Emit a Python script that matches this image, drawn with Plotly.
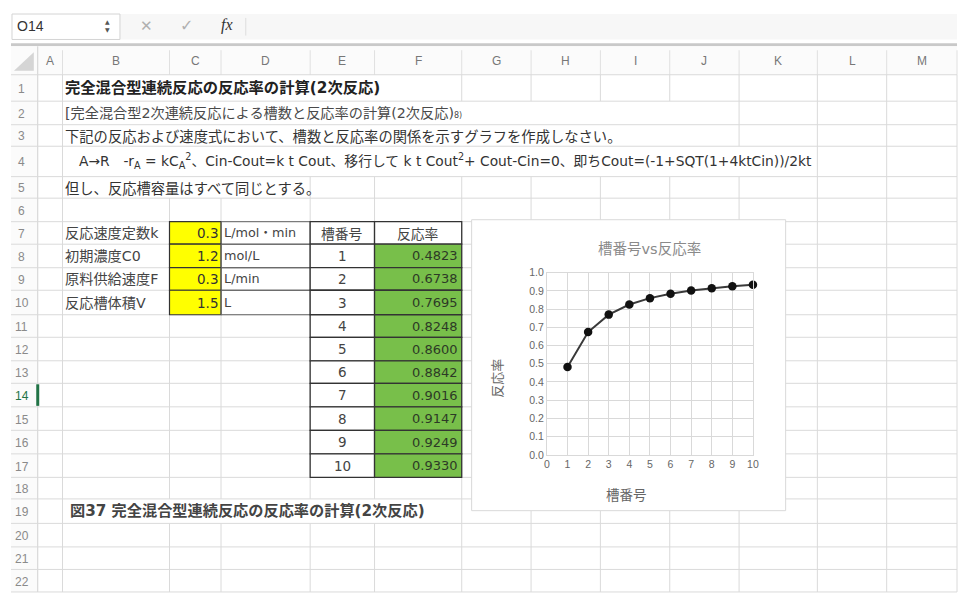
import plotly.graph_objects as go

# Figure is sized to fit inside the 973x605 window together with the page's 8px body margin,
# all positions below are given in window (screenshot) pixels.
WIN_W, WIN_H = 973, 605
OFF = 8
W, H = WIN_W - 2 * OFF, WIN_H - 2 * OFF

# ---------------- data ----------------
tank_no = [1, 2, 3, 4, 5, 6, 7, 8, 9, 10]
conversion = [0.4823, 0.6738, 0.7695, 0.8248, 0.8600, 0.8842, 0.9016, 0.9147, 0.9249, 0.9330]

param_labels = ["反応速度定数k", "初期濃度C0", "原料供給速度F", "反応槽体積V"]
param_values = ["0.3", "1.2", "0.3", "1.5"]
param_units = ["L/mol・min", "mol/L", "L/min", "L"]

table_headers = ["槽番号", "反応率"]
col_letters = ["A", "B", "C", "D", "E", "F", "G", "H", "I", "J", "K", "L", "M"]
row_numbers = list(range(1, 23))

title_row1 = "完全混合型連続反応の反応率の計算(2次反応)"
text_row2 = "[完全混合型2次連続反応による槽数と反応率の計算(2次反応)<span style='font-size:8px'>8)</span>"
text_row3 = "下記の反応および速度式において、槽数と反応率の関係を示すグラフを作成しなさい。"
text_row4 = ("A→R　-r<sub>A</sub> = kC<sub>A</sub><sup>2</sup>、Cin-Cout=k t Cout、移行して k t Cout<sup>2</sup>"
             "+ Cout-Cin=0、即ちCout=(-1+SQT(1+4ktCin))/2kt")
text_row5 = "但し、反応槽容量はすべて同じとする。"
caption_row19 = "図37 完全混合型連続反応の反応率の計算(2次反応)"
chart_title = "槽番号vs反応率"
x_title = "槽番号"
y_title = "反応率"

# ---------------- geometry (window pixels) ----------------
col_edges = [35, 60, 168, 220, 310, 375, 463, 533, 603, 673, 743, 822, 892, 963]
row_edges = [70, 97, 121, 143, 174, 196, 220, 243, 267, 290, 315, 338, 362, 385,
             409, 433, 457, 481, 503, 528, 552, 575, 598]
header_top = 41
overflow = {1: (60, 400), 2: (60, 700), 3: (60, 700), 4: (60, 810), 5: (60, 260), 19: (60, 430)}

CJK = "Noto Sans CJK JP"
MIX = "DejaVu Sans, Noto Sans CJK JP"


def px(x):
    return (x - OFF) / W


def py(y):
    return 1 - (y - OFF) / H


shapes = []
annotations = []


def line(x0, y0, x1, y1, color="#dadada", width=1, layer="below"):
    shapes.append(dict(type="line", xref="paper", yref="paper", x0=px(x0), y0=py(y0),
                       x1=px(x1), y1=py(y1), line=dict(color=color, width=width), layer=layer))


def rect(x0, y0, x1, y1, fill, lc=None, lw=0, layer="below"):
    shapes.append(dict(type="rect", xref="paper", yref="paper", x0=px(x0), y0=py(y0),
                       x1=px(x1), y1=py(y1), fillcolor=fill,
                       line=dict(color=lc if lc else fill, width=lw), layer=layer))


def text(x, y, s, size=13, color="#3a3a3a", anchor="left", family=CJK, angle=0):
    annotations.append(dict(x=px(x), y=py(y), xref="paper", yref="paper", text=s,
                            showarrow=False, xanchor=anchor, yanchor="middle", textangle=angle,
                            font=dict(size=size, color=color, family=family), borderpad=0))


def row_mid(r):
    return (row_edges[r - 1] + row_edges[r]) / 2


# ---------------- formula bar ----------------
rect(118, 8, 963, 34, "#f7f7f7")
rect(9, 8, 118, 34, "#ffffff", "#d4d4d4", 1)
text(13, 20, "O14", size=14, color="#333333", family="Liberation Sans")
text(105, 16, "▲", size=6, color="#555555", anchor="center", family="DejaVu Sans")
text(105, 24, "▼", size=6, color="#555555", anchor="center", family="DejaVu Sans")
text(145, 20, "✕", size=15, color="#b0b0b0", anchor="center", family="DejaVu Sans")
text(185, 20, "✓", size=16, color="#b0b0b0", anchor="center", family="DejaVu Sans")
text(226, 19, "<i>fx</i>", size=16, color="#333333", anchor="center", family="Liberation Serif")
line(245, 12, 245, 30, "#dddddd", 1)
line(8, 39.5, 963, 39.5, "#c9c9c9", 3)

# ---------------- headers ----------------
rect(8, header_top, 963, row_edges[0], "#fbfbfb")
rect(8, row_edges[0], col_edges[0], row_edges[-1], "#fbfbfb")
shapes.append(dict(type="path", xref="paper", yref="paper",
                   path="M %f %f L %f %f L %f %f Z" % (px(31), py(47), px(31), py(66), px(11), py(66)),
                   fillcolor="#d5d5d5", line=dict(width=0), layer="below"))
for i, c in enumerate(col_letters):
    text((col_edges[i] + col_edges[i + 1]) / 2, 56, c, size=12, color="#777777",
         anchor="center", family="Liberation Sans")
for r in row_numbers:
    col = "#217346" if r == 14 else "#8a8a8a"
    text(19, row_mid(r) + 1, str(r), size=12, color=col, anchor="center", family="Liberation Sans")

# ---------------- grid ----------------
for x in col_edges[1:]:
    run_start = None
    for r in row_numbers:
        hidden = r in overflow and overflow[r][0] < x < overflow[r][1]
        if not hidden and run_start is None:
            run_start = row_edges[r - 1]
        if hidden and run_start is not None:
            line(x, run_start, x, row_edges[r - 1])
            run_start = None
    if run_start is not None:
        line(x, run_start, x, row_edges[-1])
    line(x, header_top + 4, x, row_edges[0], "#e0e0e0")
line(col_edges[0], header_top, col_edges[0], row_edges[-1], "#d0d0d0")
for y in row_edges:
    line(8, y, 963, y)
line(col_edges[0], row_edges[13] + 1, col_edges[0], row_edges[14] - 1, "#217346", 3)

# ---------------- cell contents ----------------
text(62, row_mid(1), "<b>" + title_row1 + "</b>", size=15.3, color="#222222", family=MIX)
text(61, row_mid(2), text_row2, size=14.2, color="#4a4a4a", family=MIX)
text(61, row_mid(3), text_row3, size=14.3, color="#333333")
text(76, row_mid(4), text_row4, size=13.8, color="#333333", family=MIX)
text(61, row_mid(5), text_row5, size=14.3, color="#333333")
text(67, row_mid(19), "<b>" + caption_row19 + "</b>", size=15.2, color="#444444", family=MIX)

for i in range(4):
    r = 7 + i
    y0, y1 = row_edges[r - 1], row_edges[r]
    rect(col_edges[2], y0, col_edges[3], y1, "#ffff00", "#333333", 1.2)
    rect(col_edges[3], y0, col_edges[4], y1, "rgba(0,0,0,0)", "#666666", 1)
    text(62, row_mid(r), param_labels[i], size=14.2, color="#444444", family=MIX)
    text(col_edges[3] - 2, row_mid(r), param_values[i], size=13.5, color="#333333",
         anchor="right", family="DejaVu Sans")
    text(col_edges[3] + 2, row_mid(r), param_units[i], size=12.8, color="#444444", family=MIX)

for j, hdr in enumerate(table_headers):
    x0, x1 = col_edges[4 + j], col_edges[5 + j]
    rect(x0, row_edges[6], x1, row_edges[7], "#ffffff", "#333333", 1.3)
    text((x0 + x1) / 2, row_mid(7), hdr, size=13.8, color="#444444", anchor="center")
for i, (n, v) in enumerate(zip(tank_no, conversion)):
    r = 8 + i
    y0, y1 = row_edges[r - 1], row_edges[r]
    rect(col_edges[4], y0, col_edges[5], y1, "#ffffff", "#333333", 1.3)
    rect(col_edges[5], y0, col_edges[6], y1, "#78bf4a", "#333333", 1.3)
    text((col_edges[4] + col_edges[5]) / 2, row_mid(r), str(n), size=13.5, color="#444444",
         anchor="center", family="DejaVu Sans")
    text(col_edges[6] - 3, row_mid(r), "%.4f" % v, size=13, color="#2d3a26",
         anchor="right", family="DejaVu Sans")

# ---------------- chart box ----------------
rect(473, 218, 790, 515, "#ffffff", "#d9d9d9", 1)
text(653, 248, chart_title, size=14.5, color="#8a8a8a", anchor="center", family=MIX)
text(629, 498, x_title, size=13.5, color="#666666", anchor="center")
text(498, 380, y_title, size=13, color="#666666", anchor="center", angle=-90)

fig = go.Figure()
fig.add_trace(go.Scatter(
    x=tank_no, y=conversion, mode="lines+markers",
    line=dict(color="#3a3a3a", width=2),
    marker=dict(color="#111111", size=8.5),
    showlegend=False, cliponaxis=False,
))

axis_common = dict(showgrid=True, gridcolor="#d9d9d9", gridwidth=1, zeroline=False,
                   showline=True, mirror=True, linecolor="#d9d9d9", linewidth=1, ticks="",
                   tickfont=dict(size=10.5, color="#666666", family="Liberation Sans"),
                   fixedrange=True)

fig.update_layout(
    width=W, height=H,
    margin=dict(l=0, r=0, t=0, b=0),
    paper_bgcolor="#ffffff",
    plot_bgcolor="rgba(0,0,0,0)",
    shapes=shapes,
    annotations=annotations,
    xaxis=dict(domain=[px(549), px(757)], range=[0, 10], dtick=1, tick0=0, **axis_common),
    yaxis=dict(domain=[py(458), py(272)], range=[0, 1], dtick=0.1, tick0=0, tickformat=".1f",
               **axis_common),
)

fig.write_html("out.html", config={"displayModeBar": False})
